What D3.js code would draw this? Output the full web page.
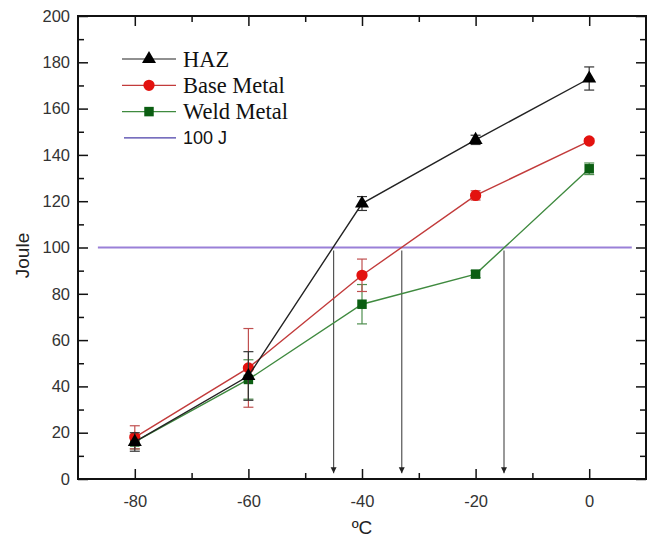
<!DOCTYPE html>
<html lang="en">
<head>
<meta charset="utf-8">
<title>Impact energy</title>
<script src="https://d3js.org/d3.v7.min.js"></script>
<style>
  body { margin: 0; background: #fff; }
  .tick text { font-family: "Liberation Sans", Arial, sans-serif; font-size: 16.5px; fill: #333; }
</style>
</head>
<body>
<div id="chart"></div>
<script>

// data
var temps = [-80, -60, -40, -20, 0];
var hazJ = [16, 44.5, 119, 146.5, 173];
var hazErr = [4, 10.5, 3, 2, 5];
var baseJ = [18, 48, 88, 122.5, 146];
var baseErr = [5, 17, 7, 2, 1];
var weldJ = [16, 43, 75.5, 88.5, 134];
var weldErr = [3, 8.5, 8.5, 1.5, 2.5];
var limitJ = 100;
var limitRange = [-86.5, 7.5];
var crossTemps = [-45, -33, -15];
var seriesNames = ["HAZ", "Base Metal", "Weld Metal", "100 J"];

var xMajor = [-80, -60, -40, -20, 0];
var xMinor = [-70, -50, -30, -10];
var yMajor = [0, 20, 40, 60, 80, 100, 120, 140, 160, 180, 200];
var yMinor = [10, 30, 50, 70, 90, 110, 130, 150, 170, 190];

// dimensions
var W = 653, H = 538;
var margin = {top: 16, right: 7, bottom: 59, left: 78},
    width = W - margin.left - margin.right,
    height = H - margin.top - margin.bottom;

var svg = d3.select("#chart")
  .append("svg")
    .attr("width", W)
    .attr("height", H)
  .append("g")
    .attr("transform", "translate(" + margin.left + "," + margin.top + ")");

var x = d3.scaleLinear().domain([-90, 10]).range([0, width]);
var y = d3.scaleLinear().domain([0, 200]).range([height, 0]);

/* ================= AXES ================= */
function styleAxis(g) {
  g.select(".domain").remove();
  g.selectAll(".tick line").attr("stroke", "#111").attr("stroke-width", 1.5);
}
var plain = function(d) { return String(d); };

// bottom
svg.append("g")
  .attr("transform", "translate(0," + height + ")")
  .call(d3.axisBottom(x).tickValues(xMajor).tickSize(-10).tickPadding(16).tickFormat(plain))
  .call(styleAxis);
svg.append("g")
  .attr("transform", "translate(0," + height + ")")
  .call(d3.axisBottom(x).tickValues(xMinor).tickSize(-6).tickFormat(""))
  .call(styleAxis);
// top
svg.append("g")
  .call(d3.axisTop(x).tickValues(xMajor).tickSize(-10).tickFormat(""))
  .call(styleAxis);
svg.append("g")
  .call(d3.axisTop(x).tickValues(xMinor).tickSize(-6).tickFormat(""))
  .call(styleAxis);
// left
svg.append("g")
  .call(d3.axisLeft(y).tickValues(yMajor).tickSize(-10).tickPadding(8).tickFormat(plain))
  .call(styleAxis);
svg.append("g")
  .call(d3.axisLeft(y).tickValues(yMinor).tickSize(-6).tickFormat(""))
  .call(styleAxis);
// right
svg.append("g")
  .attr("transform", "translate(" + width + ",0)")
  .call(d3.axisRight(y).tickValues(yMajor).tickSize(-10).tickFormat(""))
  .call(styleAxis);
svg.append("g")
  .attr("transform", "translate(" + width + ",0)")
  .call(d3.axisRight(y).tickValues(yMinor).tickSize(-6).tickFormat(""))
  .call(styleAxis);

// frame
svg.append("rect")
  .attr("width", width)
  .attr("height", height)
  .attr("fill", "none")
  .attr("stroke", "#111")
  .attr("stroke-width", 2);

// axis titles
svg.append("text")
  .attr("transform", "translate(" + (-margin.left + 29) + "," + (height / 2 + 8) + ") rotate(-90)")
  .attr("text-anchor", "middle")
  .style("font-family", "Liberation Sans, Arial, sans-serif")
  .style("font-size", "19px")
  .attr("fill", "#222")
  .text("Joule");

svg.append("text")
  .attr("x", width / 2)
  .attr("y", height + 55)
  .attr("text-anchor", "middle")
  .style("font-family", "Liberation Sans, Arial, sans-serif")
  .style("font-size", "19px")
  .attr("fill", "#222")
  .text("ºC");

/* ================= 100 J LINE + ARROWS ================= */
svg.append("line")
  .attr("x1", x(limitRange[0]))
  .attr("x2", x(limitRange[1]))
  .attr("y1", y(limitJ))
  .attr("y2", y(limitJ))
  .attr("stroke", "#9a80d8")
  .attr("stroke-width", 1.8);

svg.append("defs").append("marker")
  .attr("id", "arrow")
  .attr("viewBox", "0 0 10 10")
  .attr("refX", 10)
  .attr("refY", 5)
  .attr("markerWidth", 6)
  .attr("markerHeight", 8)
  .attr("markerUnits", "userSpaceOnUse")
  .attr("orient", "auto")
  .append("path")
    .attr("d", "M0,0 L10,5 L0,10 Z")
    .attr("fill", "#222");

svg.selectAll(".drop")
  .data(crossTemps)
  .enter()
  .append("line")
    .attr("x1", function(d) { return x(d); })
    .attr("x2", function(d) { return x(d); })
    .attr("y1", y(limitJ) + 3)
    .attr("y2", y(2.5))
    .attr("stroke", "#555")
    .attr("stroke-width", 1.2)
    .attr("marker-end", "url(#arrow)");

/* ================= SERIES ================= */
var series = [
  {name: seriesNames[2], vals: weldJ, err: weldErr, line: "#3f8a3f", fill: "#0b5e12", errc: "#4f8f4f", shape: d3.symbolSquare, size: 90},
  {name: seriesNames[1], vals: baseJ, err: baseErr, line: "#c23b3b", fill: "#e3120f", errc: "#c05050", shape: d3.symbolCircle, size: 100},
  {name: seriesNames[0], vals: hazJ, err: hazErr, line: "#222", fill: "#000", errc: "#333", shape: d3.symbolTriangle, size: 85}
];

var line = d3.line()
  .x(function(d) { return x(d[0]); })
  .y(function(d) { return y(d[1]); });

series.forEach(function(s) {
  var pts = temps.map(function(t, i) { return [t, s.vals[i], s.err[i]]; });
  var g = svg.append("g");

  // error bars
  var eb = g.selectAll(".err").data(pts).enter().append("g");
  eb.append("line")
    .attr("x1", function(d) { return x(d[0]); })
    .attr("x2", function(d) { return x(d[0]); })
    .attr("y1", function(d) { return y(d[1] - d[2]); })
    .attr("y2", function(d) { return y(d[1] + d[2]); })
    .attr("stroke", s.errc).attr("stroke-width", 1.2);
  [-1, 1].forEach(function(sgn) {
    eb.append("line")
      .attr("x1", function(d) { return x(d[0]) - 5; })
      .attr("x2", function(d) { return x(d[0]) + 5; })
      .attr("y1", function(d) { return y(d[1] + sgn * d[2]); })
      .attr("y2", function(d) { return y(d[1] + sgn * d[2]); })
      .attr("stroke", s.errc).attr("stroke-width", 1.2);
  });

  g.append("path")
    .datum(pts)
    .attr("d", line)
    .attr("fill", "none")
    .attr("stroke", s.line)
    .attr("stroke-width", 1.4);

  g.selectAll(".pt").data(pts).enter().append("path")
    .attr("transform", function(d) { return "translate(" + x(d[0]) + "," + y(d[1]) + ")"; })
    .attr("d", d3.symbol().type(s.shape).size(s.size))
    .attr("fill", s.fill);
});

/* ================= LEGEND ================= */
var legend = [
  {name: seriesNames[0], line: "#222", fill: "#000", shape: d3.symbolTriangle, size: 85},
  {name: seriesNames[1], line: "#c23b3b", fill: "#e3120f", shape: d3.symbolCircle, size: 100},
  {name: seriesNames[2], line: "#3f8a3f", fill: "#0b5e12", shape: d3.symbolSquare, size: 90},
  {name: seriesNames[3], line: "#4a3fa8", fill: null}
];
var lx = 122 - margin.left, ly0 = 59 - margin.top, lstep = 26.3;

var lg = svg.selectAll(".leg").data(legend).enter().append("g")
  .attr("transform", function(d, i) { return "translate(" + lx + "," + (ly0 + i * lstep) + ")"; });
lg.append("line")
  .attr("x1", function(d) { return d.fill ? 0 : 2; })
  .attr("x2", 54)
  .attr("stroke", function(d) { return d.line; })
  .attr("stroke-width", 1.2);
lg.filter(function(d) { return d.fill; }).append("path")
  .attr("transform", "translate(27,0)")
  .attr("d", function(d) { return d3.symbol().type(d.shape).size(d.size)(); })
  .attr("fill", function(d) { return d.fill; });
lg.append("text")
  .attr("x", 61)
  .attr("dy", "0.35em")
  .style("font-family", function(d, i) { return i < 3 ? "Liberation Serif, Times New Roman, serif" : "Liberation Sans, Arial, sans-serif"; })
  .style("font-size", function(d, i) { return i < 3 ? "22.5px" : "18px"; })
  .attr("fill", "#111")
  .text(function(d) { return d.name; });

</script>
</body>
</html>
